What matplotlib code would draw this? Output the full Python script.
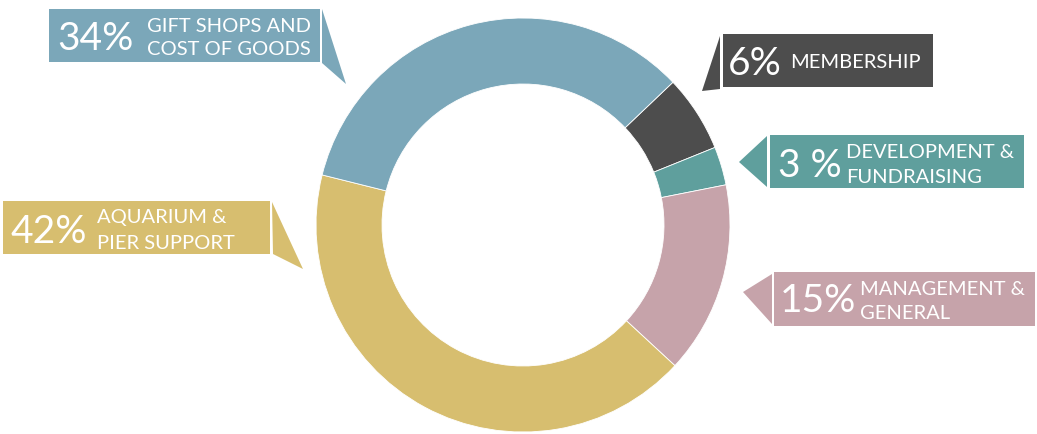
import matplotlib.pyplot as plt
from matplotlib.patches import Rectangle, Polygon

# Expense shares, listed clockwise starting at the top-right slice
categories = ["MEMBERSHIP", "DEVELOPMENT &\nFUNDRAISING", "MANAGEMENT &\nGENERAL",
              "AQUARIUM &\nPIER SUPPORT", "GIFT SHOPS AND\nCOST OF GOODS"]
shares = [6, 3, 15, 42, 34]
pct_labels = ["6%", "3 %", "15%", "42%", "34%"]
colors = ["#4d4d4d", "#5f9f9d", "#c6a3aa", "#d7be6f", "#7ba7b9"]

W, H = 1037, 435

def py(y):
    # pixel row (from top) -> data y
    return H - y

# Callout layout in pixel coords: box, pointer triangle, text anchors
layout = [
    dict(rect=(723, 35, 933, 88), tri=[(720, 37), (702, 92), (720, 90)],
         num_x=728, num_base=75, lab_x=790, lab_base=[68]),
    dict(rect=(770, 136, 1024, 189), tri=[(767, 137), (739, 163), (767, 188)],
         num_x=778, num_base=177, lab_x=846, lab_base=[158, 183]),
    dict(rect=(774, 273, 1035, 327), tri=[(772, 275), (743, 293), (772, 325)],
         num_x=780, num_base=312, lab_x=860, lab_base=[295, 319]),
    dict(rect=(3, 202, 270, 255), tri=[(272, 203), (273, 255), (303, 270)],
         num_x=10, num_base=243, lab_x=97, lab_base=[223, 249]),
    dict(rect=(49, 10, 320, 63), tri=[(322, 10), (322, 64), (346, 85)],
         num_x=57, num_base=50, lab_x=147, lab_base=[32, 55]),
]

fig = plt.figure(figsize=(W / 100, H / 100), dpi=100)
ax = fig.add_axes([0, 0, 1, 1])

# Donut
ax.pie(shares, colors=colors, startangle=43.6, counterclock=False,
       radius=207, center=(523, py(226)),
       wedgeprops=dict(width=66, edgecolor='white', linewidth=0.6))

# Callout boxes
font = 'Lato'
for cat, pct, col, lay in zip(categories, pct_labels, colors, layout):
    x0, y0, x1, y1 = lay['rect']
    ax.add_patch(Rectangle((x0, py(y1)), x1 - x0, y1 - y0, facecolor=col,
                           edgecolor='none', zorder=3))
    ax.add_patch(Polygon([(x, py(y)) for x, y in lay['tri']], closed=True,
                         facecolor=col, edgecolor='none', zorder=3))
    ax.text(lay['num_x'], py(lay['num_base']), pct, color='white', fontsize=28,
            family=font, va='baseline', ha='left', zorder=4)
    for line, base in zip(cat.split("\n"), lay['lab_base']):
        ax.text(lay['lab_x'], py(base), line, color='white', fontsize=14.5,
                family=font, va='baseline', ha='left', zorder=4)

ax.set_xlim(0, W)
ax.set_ylim(0, H)
ax.set_aspect('equal')
ax.axis('off')

fig.savefig('out.png', dpi=100, facecolor='white')
